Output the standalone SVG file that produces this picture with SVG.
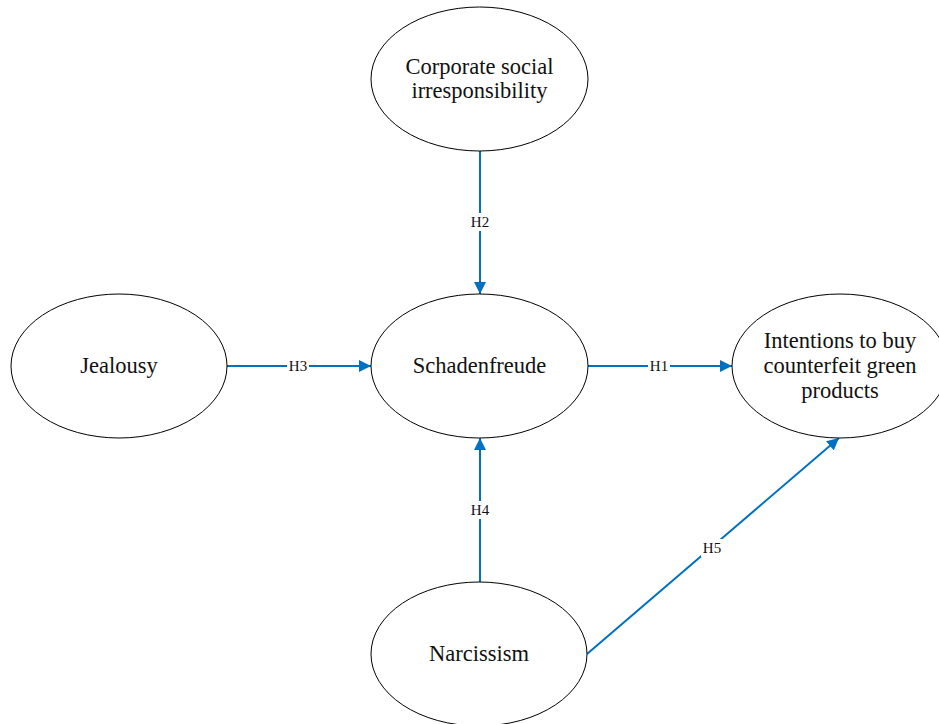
<svg xmlns="http://www.w3.org/2000/svg" width="939" height="724" viewBox="0 0 939 724">
<defs>
<style>
.node{fill:#fff;stroke:#000;stroke-width:1}
.t{font-family:"Liberation Serif","DejaVu Serif",serif;font-size:22.5px;fill:#111;text-anchor:middle}
.e{stroke:#0070C0;stroke-width:2;fill:none;marker-end:url(#ah)}
.lb{fill:#fff}
.l{font-family:"Liberation Serif","DejaVu Serif",serif;font-size:15px;fill:#111;text-anchor:middle}
</style>
<marker id="ah" viewBox="0 0 10 10" refX="10" refY="5" markerWidth="6" markerHeight="6.5" markerUnits="strokeWidth" orient="auto">
<path d="M0,0 L10,5 L0,10 z" fill="#0070C0"/>
</marker>
</defs>
<rect width="939" height="724" fill="#fff"/>
<g id="connectors">
<line class="e" x1="480" y1="151" x2="480" y2="294"/>
<line class="e" x1="227" y1="366" x2="371" y2="366"/>
<line class="e" x1="588" y1="366" x2="732" y2="366"/>
<line class="e" x1="480" y1="582" x2="480" y2="438"/>
<line class="e" x1="587" y1="654" x2="839" y2="438"/>
<rect class="lb" x="469" y="213" width="22" height="18"/>
<text class="l" x="480" y="227">H2</text>
<rect class="lb" x="287" y="357" width="22" height="18"/>
<text class="l" x="298" y="371">H3</text>
<rect class="lb" x="648" y="357" width="22" height="18"/>
<text class="l" x="659" y="371">H1</text>
<rect class="lb" x="469" y="501" width="22" height="18"/>
<text class="l" x="480" y="515">H4</text>
<rect class="lb" x="701" y="539" width="22" height="18"/>
<text class="l" x="712" y="553">H5</text>
</g>
<g id="csi">
<ellipse class="node" cx="479.5" cy="79" rx="108.5" ry="72"/>
<text class="t" x="479.5" y="74">Corporate social</text>
<text class="t" x="479.5" y="98">irresponsibility</text>
</g>
<g id="jealousy">
<ellipse class="node" cx="119" cy="366" rx="108" ry="72"/>
<text class="t" x="119" y="373">Jealousy</text>
</g>
<g id="schadenfreude">
<ellipse class="node" cx="479.5" cy="366" rx="108.5" ry="72"/>
<text class="t" x="479.5" y="373">Schadenfreude</text>
</g>
<g id="intentions">
<ellipse class="node" cx="840" cy="366" rx="108" ry="72"/>
<text class="t" x="840" y="348">Intentions to buy</text>
<text class="t" x="840" y="373">counterfeit green</text>
<text class="t" x="840" y="398">products</text>
</g>
<g id="narcissism">
<ellipse class="node" cx="479" cy="654" rx="108" ry="72"/>
<text class="t" x="479" y="661">Narcissism</text>
</g>
</svg>
